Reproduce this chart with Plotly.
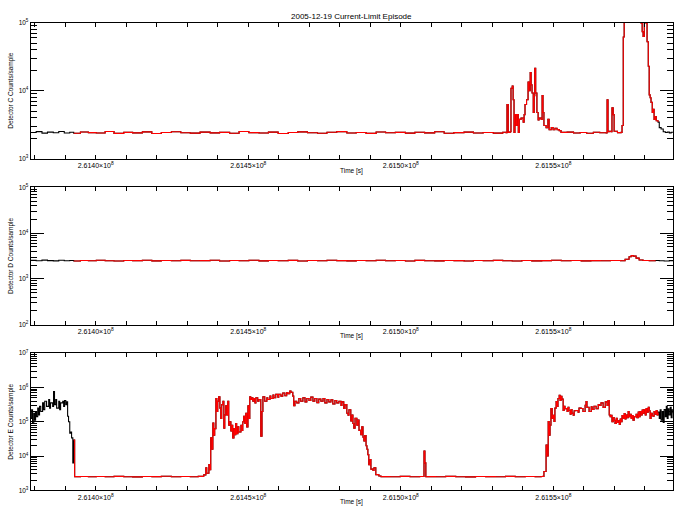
import numpy as np
import plotly.graph_objects as go

# time offsets in ks from T0, counts per sample
T0 = 2.614e8

c_time = [-21.3, -19.5, -17.6, -15.8, -13.9, -12.1, -10.3, -8.5, -7.2, -5.0,
          -2.4, 0.2, 3.1, 6.0, 9.2, 12.1, 15.3, 18.4, 21.5, 24.8,
          27.9, 31.0, 34.2, 37.5, 40.6, 43.9, 47.0, 50.2, 53.5, 56.6,
          59.8, 63.1, 66.2, 69.4, 72.7, 75.8, 79.0, 82.3, 85.4, 88.6,
          91.9, 95.0, 98.2, 101.5, 104.6, 107.8, 111.1, 114.2, 117.4, 120.7,
          123.8, 127.0, 130.3, 133.4, 134.5, 134.8, 135.2, 135.8, 136.1, 136.5,
          136.8, 137.1, 137.4, 137.8, 138.1, 138.5, 138.8, 139.4, 140.1, 140.4,
          140.7, 141.2, 141.7, 142.0, 142.4, 142.7, 143.0, 143.4, 143.7, 143.9,
          144.2, 144.6, 145.0, 145.3, 145.7, 146.0, 146.3, 146.6, 146.9, 147.6,
          148.2, 148.6, 149.3, 149.9, 150.5, 151.2, 151.9, 152.5, 154.5, 156.6,
          158.8, 160.9, 163.1, 165.2, 167.3, 167.6, 167.9, 168.3, 168.9, 169.2,
          169.6, 169.9, 171.0, 172.2, 172.5, 172.9, 173.2, 174.0, 175.2, 176.5,
          177.8, 178.8, 179.1, 179.4, 179.8, 180.1, 180.4, 180.7, 181.1, 181.4,
          181.7, 182.0, 182.4, 182.7, 183.0, 183.4, 183.7, 184.3, 184.7, 185.3,
          186.0, 186.7, 187.3, 188.0, 188.6, 189.3]
c_counts = [2440, 2510, 2390, 2470, 2420, 2530, 2400, 2460, 2380, 2480,
            2430, 2400, 2520, 2370, 2450, 2410, 2490, 2360, 2440, 2500,
            2420, 2390, 2470, 2410, 2450, 2380, 2520, 2430, 2400, 2470,
            2360, 2440, 2490, 2420, 2380, 2460, 2510, 2400, 2440, 2370,
            2480, 2420, 2450, 2390, 2460, 2410, 2500, 2380, 2430, 2470,
            2400, 2440, 2390, 2460, 2420, 6300, 2450, 2500, 10900, 11700,
            7400, 2450, 4470, 3090, 4470, 2450, 3800, 3980, 3470, 4470,
            6300, 7400, 13500, 10000, 18600, 12300, 9300, 4790, 8500, 21400,
            9300, 4790, 3720, 3980, 3980, 3800, 8500, 4790, 3090, 2880,
            3800, 2690, 2880, 2690, 2820, 2690, 2600, 2450, 2470, 2400,
            2440, 2380, 2460, 2420, 2400, 7400, 2500, 2540, 2500, 5620,
            4470, 2540, 2430, 2450, 3090, 61700, 150000, 250000, 300000, 200000,
            280000, 98000, 74000, 63000, 150000, 120000, 98000, 52500, 22900, 8700,
            7900, 6760, 4790, 5370, 3800, 4170, 3630, 3470, 2880, 2750,
            2500, 2440, 2470, 2410, 2460, 2430]

d_time = [-21.3, -19.5, -17.6, -15.8, -13.9, -12.1, -10.3, -8.5, -7.2, -5.0,
          -2.4, 0.2, 3.1, 6.0, 9.2, 12.1, 15.3, 18.4, 21.5, 24.8,
          27.9, 31.0, 34.2, 37.5, 40.6, 43.9, 47.0, 50.2, 53.5, 56.6,
          59.8, 63.1, 66.2, 69.4, 72.7, 75.8, 79.0, 82.3, 85.4, 88.6,
          91.9, 95.0, 98.2, 101.5, 104.6, 107.8, 111.1, 114.2, 117.4, 120.7,
          123.8, 127.0, 130.3, 133.4, 136.5, 139.7, 142.9, 146.2, 149.4, 152.6,
          155.8, 159.1, 162.3, 165.5, 168.7, 172.0, 173.5, 174.8, 175.5, 176.1,
          177.1, 178.1, 179.4, 181.4, 183.4, 184.7, 186.3, 188.0, 189.3]
d_counts = [2540, 2490, 2570, 2510, 2480, 2560, 2500, 2530, 2470, 2520,
            2490, 2550, 2500, 2470, 2530, 2510, 2560, 2480, 2520, 2500,
            2540, 2490, 2510, 2560, 2470, 2530, 2500, 2550, 2480, 2520,
            2500, 2540, 2470, 2520, 2490, 2560, 2510, 2480, 2530, 2500,
            2550, 2490, 2520, 2470, 2540, 2500, 2480, 2530, 2510, 2460,
            2520, 2490, 2540, 2500, 2470, 2530, 2480, 2510, 2550, 2490,
            2520, 2480, 2510, 2490, 2530, 2500, 2700, 3050, 3250, 3150,
            2850, 2600, 2520, 2490, 2530, 2500, 2470, 2510, 2490]

e_time = [-21.3, -21.0, -20.7, -20.3, -20.0, -19.7, -19.4, -19.0, -18.7, -18.4,
          -18.0, -17.4, -17.1, -16.7, -16.1, -15.4, -15.1, -14.8, -14.1, -13.8,
          -13.5, -13.1, -12.8, -12.1, -11.8, -11.5, -10.8, -10.5, -10.2, -9.8,
          -9.5, -9.2, -8.9, -8.5, -8.2, -7.9, -7.5, -7.2, -6.9, -5.0,
          -2.4, 0.2, 3.1, 6.0, 9.2, 12.1, 15.3, 18.4, 21.5, 24.8,
          27.9, 31.0, 33.6, 35.4, 36.1, 36.4, 37.1, 37.4, 37.7, 38.1,
          38.4, 38.7, 39.0, 39.4, 39.7, 40.0, 40.3, 40.7, 41.0, 41.3,
          41.7, 42.0, 42.3, 42.6, 43.0, 43.3, 43.6, 43.9, 44.3, 44.6,
          44.9, 45.3, 45.6, 45.9, 46.2, 46.6, 46.9, 47.6, 47.9, 48.2,
          48.5, 48.9, 49.2, 49.5, 49.9, 50.2, 50.5, 50.8, 51.2, 51.5,
          51.8, 52.2, 52.5, 53.1, 53.5, 54.1, 54.5, 54.8, 55.4, 56.1,
          56.4, 57.1, 57.4, 58.1, 58.4, 59.0, 59.7, 60.0, 60.7, 61.3,
          62.0, 62.6, 63.0, 63.6, 64.0, 64.6, 64.9, 65.3, 65.9, 66.6,
          67.2, 67.9, 68.6, 69.2, 69.9, 70.5, 71.2, 71.8, 72.5, 73.1,
          73.8, 74.5, 75.1, 75.8, 76.4, 77.1, 77.7, 78.4, 79.0, 79.7,
          80.4, 80.7, 81.3, 81.7, 82.3, 82.7, 83.0, 83.6, 84.0, 84.3,
          84.6, 85.0, 85.6, 85.9, 86.3, 86.9, 87.2, 87.6, 87.9, 88.2,
          88.6, 88.9, 89.2, 89.5, 89.9, 90.2, 90.9, 91.2, 91.8, 92.8,
          93.5, 96.5, 99.8, 103.0, 106.2, 107.6, 107.9, 108.2, 111.5, 114.7,
          118.0, 121.2, 124.5, 127.8, 131.0, 134.3, 137.5, 140.8, 144.0, 146.0,
          146.6, 146.9, 147.6, 147.9, 148.3, 148.6, 148.9, 149.2, 149.6, 149.9,
          150.2, 150.5, 150.9, 151.2, 151.5, 151.9, 152.2, 152.5, 152.8, 153.2,
          153.5, 153.8, 154.2, 154.5, 154.8, 155.1, 155.5, 155.8, 156.1, 156.5,
          156.8, 157.4, 158.1, 158.4, 159.1, 159.7, 160.4, 160.7, 161.0, 161.7,
          162.4, 162.7, 163.3, 164.0, 164.7, 165.0, 165.6, 166.3, 167.0, 167.6,
          167.9, 168.3, 168.6, 168.9, 169.2, 169.6, 169.9, 170.2, 170.6, 170.9,
          171.2, 171.6, 171.9, 172.2, 172.5, 172.9, 173.2, 173.5, 173.8, 174.2,
          174.5, 174.8, 175.2, 175.5, 175.8, 176.1, 176.5, 177.1, 177.4, 177.8,
          178.1, 178.4, 178.8, 179.1, 179.4, 179.7, 180.1, 180.4, 180.7, 181.1,
          181.4, 181.7, 182.0, 182.4, 182.7, 183.0, 183.4, 183.7, 184.0, 184.3,
          184.7, 185.0, 185.3, 185.7, 186.0, 186.3, 186.7, 187.0, 187.3, 187.6,
          187.9, 188.3, 188.6, 188.9, 189.3]
e_counts = [126e3, 224e3, 89e3, 178e3, 112e3, 200e3, 141e3, 251e3, 158e3, 282e3,
            200e3, 355e3, 224e3, 398e3, 282e3, 447e3, 251e3, 355e3, 282e3, 759e3,
            316e3, 447e3, 251e3, 398e3, 224e3, 355e3, 398e3, 282e3, 417e3, 316e3,
            380e3, 145e3, 100e3, 46.8e3, 50.1e3, 33.9e3, 6310, 29.5e3, 2510, 2540,
            2480, 2530, 2490, 2560, 2500, 2470, 2540, 2510, 2580, 2490,
            2530, 2500, 2560, 2820, 4570, 3160, 5620, 3980, 33.9e3, 15.8e3,
            91.2e3, 40.7e3, 63.1e3, 479e3, 200e3, 398e3, 537e3, 251e3, 126e3, 316e3,
            398e3, 64.6e3, 158e3, 295e3, 158e3, 398e3, 79.4e3, 100e3, 53.7e3, 79.4e3,
            33.9e3, 63.1e3, 41.7e3, 89.1e3, 44.7e3, 70.8e3, 50.1e3, 79.4e3, 56.2e3, 100e3,
            145e3, 89.1e3, 178e3, 70.8e3, 295e3, 126e3, 537e3, 447e3, 501e3, 398e3,
            479e3, 355e3, 501e3, 398e3, 447e3, 38.0e3, 200e3, 537e3, 398e3, 501e3,
            447e3, 562e3, 479e3, 603e3, 501e3, 631e3, 525e3, 631e3, 562e3, 692e3,
            575e3, 708e3, 661e3, 794e3, 724e3, 562e3, 295e3, 398e3, 355e3, 479e3,
            398e3, 501e3, 380e3, 479e3, 417e3, 525e3, 398e3, 479e3, 363e3, 457e3,
            398e3, 479e3, 355e3, 447e3, 380e3, 437e3, 331e3, 417e3, 355e3, 398e3,
            302e3, 380e3, 245e3, 316e3, 178e3, 155e3, 224e3, 105e3, 158e3, 89.1e3,
            64.6e3, 126e3, 79.4e3, 112e3, 56.2e3, 41.7e3, 70.8e3, 35.5e3, 27.5e3, 39.8e3,
            20.0e3, 15.8e3, 11.0e3, 5620, 7940, 4170, 3800, 4570, 2880, 2630,
            2510, 2480, 2550, 2500, 2530, 14.1e3, 6310, 2510, 2490, 2560,
            2500, 2470, 2540, 2510, 2490, 2560, 2500, 2530, 2480, 2540,
            2550, 3550, 20.9e3, 10.0e3, 102e3, 40.7e3, 79.4e3, 245e3, 126e3, 155e3,
            102e3, 251e3, 389e3, 282e3, 479e3, 589e3, 417e3, 550e3, 457e3, 214e3,
            282e3, 240e3, 245e3, 200e3, 263e3, 214e3, 166e3, 229e3, 178e3, 155e3,
            209e3, 214e3, 191e3, 251e3, 245e3, 200e3, 302e3, 389e3, 263e3, 200e3,
            275e3, 229e3, 282e3, 240e3, 316e3, 302e3, 355e3, 263e3, 380e3, 302e3,
            417e3, 158e3, 141e3, 155e3, 100e3, 132e3, 110e3, 89.1e3, 126e3, 95.5e3,
            107e3, 83.2e3, 120e3, 100e3, 151e3, 126e3, 174e3, 120e3, 158e3, 132e3,
            200e3, 141e3, 166e3, 126e3, 151e3, 112e3, 141e3, 166e3, 132e3, 191e3,
            141e3, 200e3, 158e3, 219e3, 178e3, 229e3, 158e3, 245e3, 191e3, 263e3,
            209e3, 126e3, 178e3, 151e3, 145e3, 200e3, 166e3, 214e3, 158e3, 191e3,
            126e3, 224e3, 112e3, 200e3, 95.5e3, 229e3, 141e3, 282e3, 126e3, 240e3,
            158e3, 263e3, 132e3, 224e3, 178e3]

# span highlighted in red (ks)
red_start = -7.2
red_end = 184.3

x_tick_vals = [2.6140e8, 2.6145e8, 2.6150e8, 2.6155e8]
x_tick_text = ["2.6140×10<sup>8</sup>", "2.6145×10<sup>8</sup>",
               "2.6150×10<sup>8</sup>", "2.6155×10<sup>8</sup>"]

panels = [
    ("Detector C Counts/sample", c_time, c_counts, (3, 5)),
    ("Detector D Counts/sample", d_time, d_counts, (2, 5)),
    ("Detector E Counts/sample", e_time, e_counts, (3, 7)),
]

W, H = 684, 518
x_left, x_right = 30.7, 673
panel_px = [(19, 157), (186, 325), (354, 493)]
x_range = [T0 - 21300, T0 + 189200]

font = "Liberation Sans"
fig = go.Figure()
layout = dict(width=W, height=H, margin=dict(l=0, r=0, t=0, b=0),
              paper_bgcolor="white", plot_bgcolor="white", showlegend=False,
              font=dict(family=font, size=7, color="black"))
annotations = []

for i, (label, t, counts, (lo, hi)) in enumerate(panels):
    n = "" if i == 0 else str(i + 1)
    t = np.array(t)
    counts = np.array(counts)
    secs = T0 + t * 1000
    red = (t >= red_start) & (t <= red_end)

    fig.add_trace(go.Scatter(x=secs, y=counts, mode="lines", line_shape="hv",
                             line=dict(color="black", width=1.1),
                             xaxis="x" + n, yaxis="y" + n))
    fig.add_trace(go.Scatter(x=secs[red], y=counts[red], mode="lines", line_shape="hv",
                             line=dict(color="red", width=1.1),
                             xaxis="x" + n, yaxis="y" + n))

    top, bot = panel_px[i]
    ydom = [1 - bot / H, 1 - top / H]
    major = [10 ** e for e in range(lo, hi + 1)]
    minor = [m * 10 ** e for e in range(lo, hi) for m in range(2, 10)]

    layout["xaxis" + n] = dict(
        domain=[x_left / W, x_right / W], anchor="y" + n, range=x_range,
        showline=True, linecolor="black", linewidth=1, mirror="allticks",
        ticks="inside", ticklen=4, tickcolor="black",
        tickmode="array", tickvals=x_tick_vals, ticktext=x_tick_text,
        minor=dict(ticks="inside", ticklen=4, tickcolor="black",
                   tick0=T0, dtick=1e4, showgrid=False),
        showgrid=False, zeroline=False, tickfont=dict(size=7),
    )
    layout["yaxis" + n] = dict(
        domain=ydom, anchor="x" + n, type="log", range=[lo, hi],
        showline=True, linecolor="black", linewidth=1, mirror="allticks",
        ticks="inside", ticklen=13, tickcolor="black",
        tickmode="array", tickvals=major,
        ticktext=["10<sup>%d</sup>" % e for e in range(lo, hi + 1)],
        minor=dict(ticks="inside", ticklen=6, tickcolor="black",
                   tickvals=minor, showgrid=False),
        showgrid=False, zeroline=False, tickfont=dict(size=6.5),
    )

    annotations.append(dict(text=label, x=11 / W, y=1 - (top + bot) / 2 / H,
                            xref="paper", yref="paper", showarrow=False,
                            xanchor="center", yanchor="middle",
                            textangle=-90, font=dict(size=6.5)))
    annotations.append(dict(text="Time [s]", x=(x_left + x_right) / 2 / W,
                            y=1 - (bot + 12) / H, xref="paper", yref="paper",
                            xanchor="center", yanchor="middle",
                            showarrow=False, font=dict(size=6.5)))

annotations.append(dict(text="2005-12-19 Current-Limit Episode",
                        x=(x_left + x_right) / 2 / W, y=1 - 13 / H,
                        xref="paper", yref="paper", showarrow=False,
                        xanchor="center", yanchor="middle",
                        font=dict(size=8)))
layout["annotations"] = annotations
fig.update_layout(**layout)

fig.write_html("out.html", config={"displayModeBar": False},
               post_script="document.body.style.margin='0';"
                           "document.body.style.overflow='hidden';")
